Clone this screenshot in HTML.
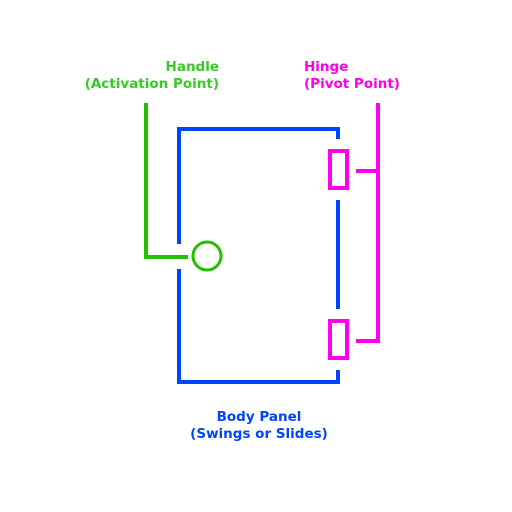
<!DOCTYPE html>
<html><head><style>
body{margin:0;background:#fff;}
svg{display:block;}
text{font-family:"DejaVu Sans",sans-serif;font-weight:bold;font-size:13.5px;}
</style></head><body>
<svg width="512" height="512">
<g fill="#33cc22" text-anchor="end">
<text x="219" y="71">Handle</text><text x="219" y="88">(Activation Point)</text></g>
<g fill="#ff00ee">
<text x="304" y="71">Hinge</text><text x="304" y="88">(Pivot Point)</text></g>
<g fill="#0044ff" text-anchor="middle">
<text x="259" y="421">Body Panel</text><text x="259" y="438">(Swings or Slides)</text></g>
<g stroke="#0044ff" stroke-width="4" fill="none">
<polyline points="338,139 338,129 179,129 179,244"/>
<polyline points="179,269 179,382 338,382 338,370"/>
<line x1="338" y1="200" x2="338" y2="309"/>
</g>
<g stroke="#ff00ee" stroke-width="4" fill="none">
<rect x="330" y="151" width="17" height="37"/>
<rect x="330" y="321" width="17" height="37"/>
<line x1="378" y1="103" x2="378" y2="343"/>
<line x1="356" y1="171" x2="378" y2="171"/>
<line x1="356" y1="341" x2="378" y2="341"/>
</g>
<g stroke="#22c000" stroke-width="4" fill="none">
<polyline points="146,103 146,257 188,257"/>
<circle cx="207" cy="256" r="14" stroke-width="3"/>
</g>
</svg>
</body></html>
